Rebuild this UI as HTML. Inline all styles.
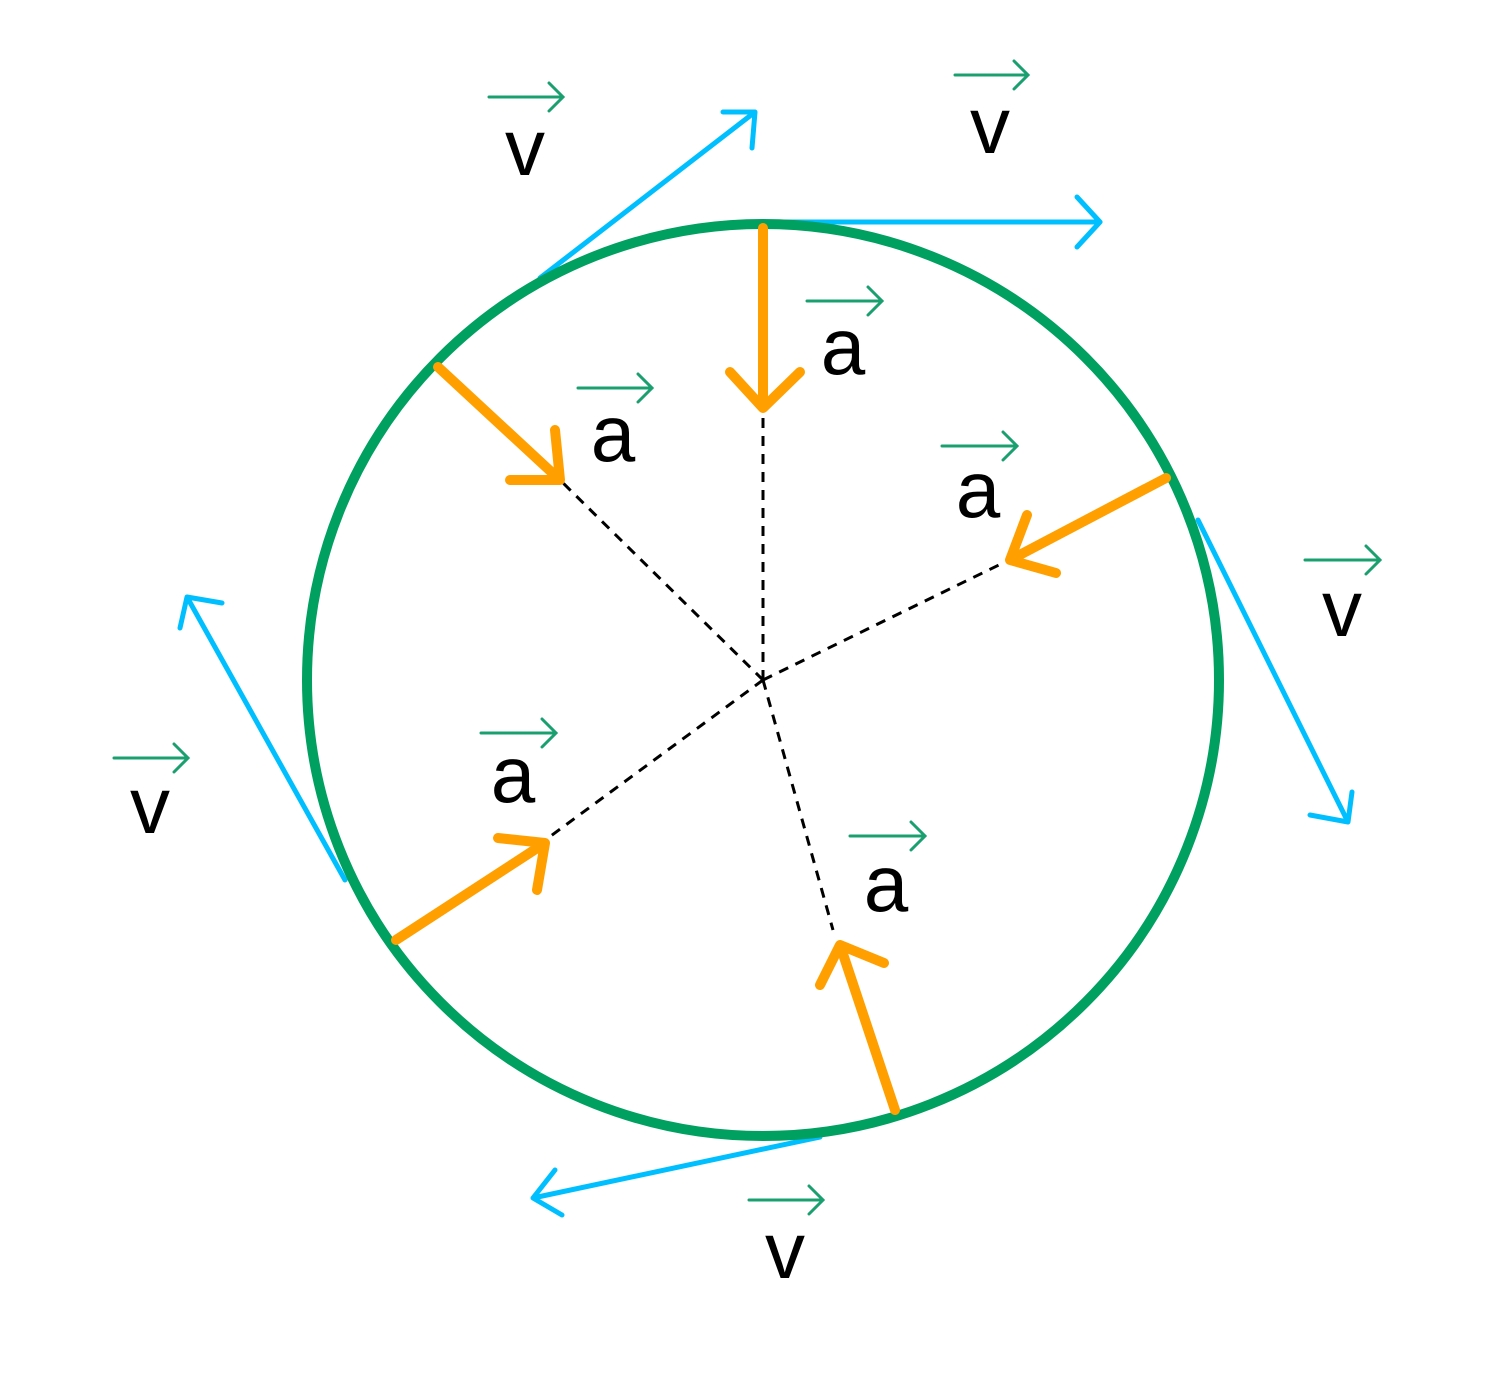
<!DOCTYPE html>
<html><head><style>html,body{margin:0;padding:0;background:#fff}</style></head>
<body>
<svg width="1491" height="1373" viewBox="0 0 1491 1373" xmlns="http://www.w3.org/2000/svg">
<g stroke="#00bfff" stroke-width="5" fill="none" stroke-linecap="round" stroke-linejoin="round">
<path d="M540,278 L755,112 M723,112 L755,112 L752,148"/>
<path d="M763,222 L1100,222 M1077,197 L1100,222 L1077,247"/>
<path d="M1198,520 L1348,822 M1310,815 L1348,822 L1352,792"/>
<path d="M820,1137 L533,1198 M555,1170 L533,1198 L562,1215"/>
<path d="M345,880 L187,597 M180,628 L187,597 L222,603"/>
</g>
<g stroke="#000" stroke-width="3" stroke-dasharray="10,8" fill="none">
<path d="M763,680 L763,408 M763,680 L560,480 M763,680 L1005,562 M763,680 L548,838 M763,680 L833,930"/>
</g>
<circle cx="763" cy="680" r="456" fill="none" stroke="#00a060" stroke-width="10"/>
<g stroke="#ffa000" stroke-width="10" fill="none" stroke-linecap="round" stroke-linejoin="round">
<path d="M763,228 L763,408 M730,372 L763,408 L800,372"/>
<path d="M438,367 L560,480 M510,480 L560,480 L555,430"/>
<path d="M1166,478 L1010,560 M1056,573 L1010,560 L1027,515"/>
<path d="M396,940 L545,843 M498,838 L545,843 L537,890"/>
<path d="M895,1110 L840,945 M820,985 L840,945 L884,963"/>
</g>
<g stroke="#1aa070" stroke-width="3" fill="none" stroke-linecap="round">
<path d="M489,97 L563,97 M549,83 L563,97 L549,111"/>
<path d="M955,75 L1028,75 M1014,61 L1028,75 L1014,89"/>
<path d="M1305,560 L1380,560 M1366,546 L1380,560 L1366,574"/>
<path d="M749,1200 L823,1200 M809,1186 L823,1200 L809,1214"/>
<path d="M114,758 L188,758 M174,744 L188,758 L174,772"/>
<path d="M807,301 L882,301 M868,287 L882,301 L868,315"/>
<path d="M578,388 L652,388 M638,374 L652,388 L638,402"/>
<path d="M942,446 L1017,446 M1003,432 L1017,446 L1003,460"/>
<path d="M481,733 L556,733 M542,719 L556,733 L542,747"/>
<path d="M850,836 L925,836 M911,822 L925,836 L911,850"/>
</g>
<g font-family="Liberation Sans, sans-serif" font-size="80" fill="#000" text-anchor="middle">
<text x="525" y="175">v</text>
<text x="990" y="153">v</text>
<text x="1342" y="636">v</text>
<text x="785" y="1278">v</text>
<text x="150" y="833">v</text>
<text x="843" y="374">a</text>
<text x="613" y="461">a</text>
<text x="978" y="517">a</text>
<text x="513" y="802">a</text>
<text x="886" y="911">a</text>
</g>
</svg>
</body></html>
